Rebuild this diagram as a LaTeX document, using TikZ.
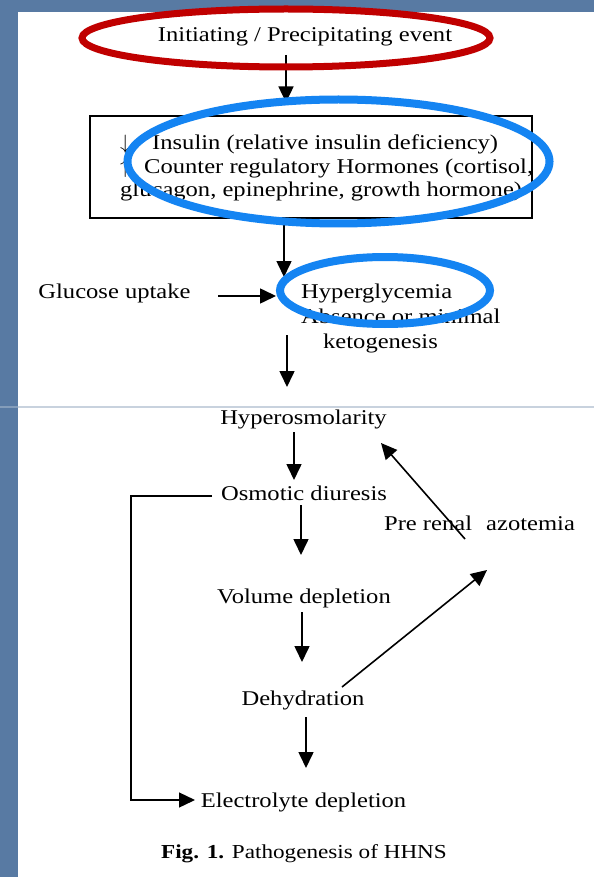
\documentclass[tikz,border=0pt]{standalone}
\usepackage{fontspec}
\setmainfont{Liberation Serif}[FakeStretch=1.17]
\usetikzlibrary{arrows.meta}

\definecolor{slateblue}{RGB}{88,122,163}
\definecolor{ringred}{RGB}{192,0,0}
\definecolor{ringblue}{RGB}{20,132,242}
\definecolor{seamgray}{RGB}{200,210,222}

\tikzset{
  lbl/.style={inner sep=0pt, font=\fontsize{21}{24}\selectfont},
  flow/.style={line width=1.6pt, -{Triangle[length=16pt,width=15pt]}},
  loopline/.style={line width=1.3pt, -{Triangle[length=16pt,width=15pt]}},
  framebox/.style={draw, line width=1.1pt, inner sep=0pt},
  redring/.style={draw=ringred, line width=7pt},
  bluering/.style={draw=ringblue, line width=8pt}
}

\begin{document}
\begin{tikzpicture}[x=1pt,y=-1pt]
  % backdrop and white sheet
  \fill[slateblue] (0,0) rectangle (594,877);
  \fill[white] (18,12) rectangle (594,877);
  \useasboundingbox (0,0) rectangle (594,877);
  % seam between the two halves of the sheet
  \draw[seamgray, line width=1.4pt] (18,407) -- (594,407);
  \draw[seamgray, opacity=0.4, line width=1.4pt] (0,407) -- (18,407);

  % labels
  \node[lbl, anchor=base] (init) at (305,42) {Initiating / Precipitating event};
  \node[framebox, minimum width=442pt, minimum height=102pt] (hbox) at (311,167) {};
  \node[lbl, anchor=base west] (horm) at (120,150)
    {\fontsize{21}{23.5}\selectfont\begin{tabular}[t]{@{}l@{}}
      \makebox[32pt][l]{$\downarrow$}Insulin (relative insulin deficiency)\\
      \makebox[24pt][l]{$\uparrow$}Counter regulatory Hormones (cortisol,\\
      glucagon, epinephrine, growth hormone)
    \end{tabular}};
  \node[lbl, anchor=base] (gluc) at (114.5,298) {Glucose uptake};
  \node[lbl, anchor=base west] (hyg) at (301,298)
    {\fontsize{21}{25}\selectfont\begin{tabular}[t]{@{}l@{}}
      Hyperglycemia\\
      Absence or minimal\\
      \hspace*{22pt}ketogenesis
    \end{tabular}};
  \node[lbl, anchor=base] (osm) at (303.5,424) {Hyperosmolarity};
  \node[lbl, anchor=base] (osd) at (304,500) {Osmotic diuresis};
  \node[lbl, anchor=base] (vol) at (304,603) {Volume depletion};
  \node[lbl, anchor=base] (dehyd) at (303,705) {Dehydration};
  \node[lbl, anchor=base] (elec) at (303.5,807) {Electrolyte depletion};
  \node[lbl, anchor=base] (pre) at (479.5,530) {Pre renal\hspace{8pt} azotemia};
  \node[lbl, anchor=base, font=\fontsize{19.8}{24}\selectfont] (cap) at (304,858)
    {\textbf{Fig. 1.} Pathogenesis of HHNS};

  % main cascade
  \draw[flow] ([shift={(-19,13)}]init.base) -- ([shift={(-25,-13)}]hbox.north);
  \draw[flow] ([shift={(-27,0)}]hbox.south) -- ([shift={(-17,-21)}]hyg.base west);
  \draw[flow] ([shift={(103.5,-2)}]gluc.base) -- ([shift={(-25,-2)}]hyg.base west);
  \draw[flow] ([shift={(-14,37)}]hyg.base west) -- ([shift={(-16.5,-37)}]osm.base);
  \draw[flow] ([shift={(-9.5,8)}]osm.base) -- ([shift={(-10,-20)}]osd.base);
  \draw[flow] ([shift={(-3,5)}]osd.base) -- ([shift={(-3,-48)}]vol.base);
  \draw[flow] ([shift={(-2,9)}]vol.base) -- ([shift={(-1,-43)}]dehyd.base);
  \draw[flow] ([shift={(3,12)}]dehyd.base) -- ([shift={(2.5,-39)}]elec.base);

  % pre-renal feedback loop
  \draw[flow] ([shift={(39,-18)}]dehyd.base) -- ([shift={(7.5,40)}]pre.base);
  \draw[flow] ([shift={(-14.5,9)}]pre.base) -- ([shift={(77.5,19)}]osm.base);

  % osmotic diuresis also drains electrolytes
  \draw[loopline] ([shift={(-92,-4)}]osd.base) -- ++(-81,0)
    |- ([shift={(-108.5,-7)}]elec.base);

  % highlight rings
  \draw[redring] (286,38) ellipse [x radius=204pt, y radius=29pt];
  \draw[bluering] (338.5,161.5) ellipse [x radius=211pt, y radius=62pt];
  \draw[bluering] (385,290.5) ellipse [x radius=105pt, y radius=33.5pt];
\end{tikzpicture}
\end{document}
